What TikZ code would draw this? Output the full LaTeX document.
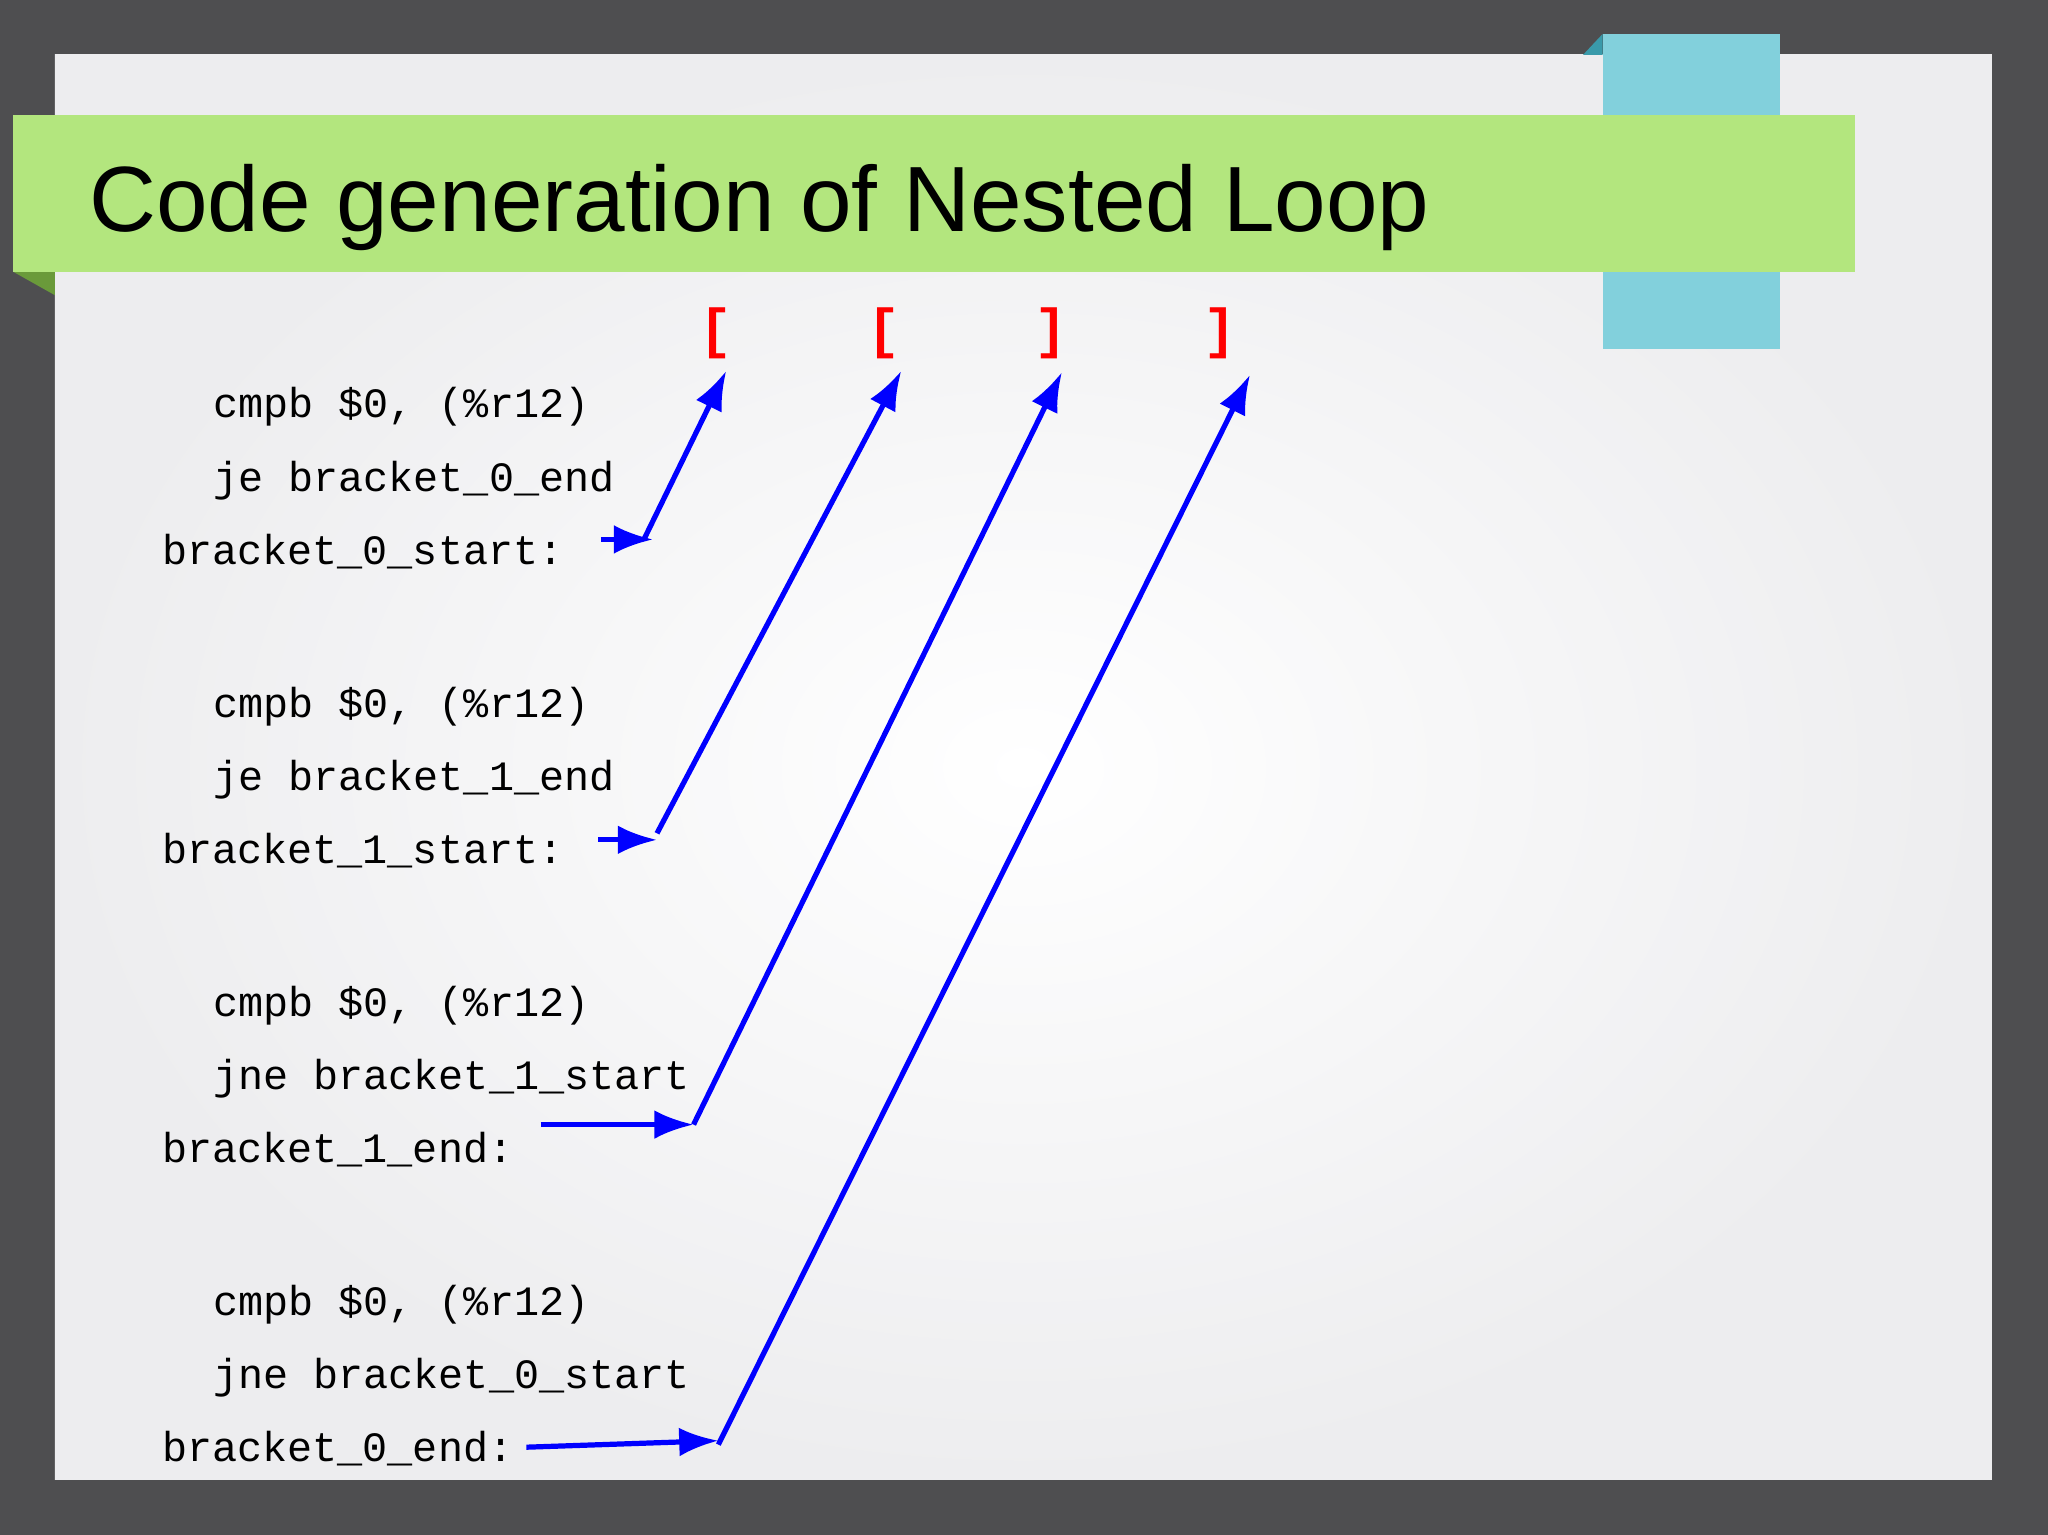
\documentclass[tikz,border=0pt]{standalone}
\usepackage{fontspec}
\setmainfont{Liberation Sans}
\setmonofont{Liberation Mono}
\usetikzlibrary{arrows.meta}
\definecolor{bgdark}{HTML}{4E4E50}
\definecolor{slide}{HTML}{EDEDEF}
\definecolor{titlegreen}{HTML}{B3E67E}
\definecolor{darkgreen}{HTML}{6A9A3A}
\definecolor{sky}{HTML}{82D0DC}
\definecolor{teal}{HTML}{3A9AAA}
\tikzset{
  code/.style={anchor=base west,inner sep=0pt,font=\ttfamily\fontsize{32}{38}\selectfont},
  brk/.style={anchor=base,inner sep=0pt,text=red,font=\ttfamily\bfseries\fontsize{42}{48}\selectfont},
  arr/.style={draw=blue,line width=4pt,-{Latex[length=30pt,width=22pt]}},
}
\begin{document}
\begin{tikzpicture}[x=1pt,y=-1pt]
\useasboundingbox (0,0) rectangle (1568,1175);
\fill[bgdark] (0,0) rectangle (1568,1175);
\shade[inner color=white,outer color=slide] (42,42) rectangle (1525,1133);
\fill[teal] (1212,42) -- (1227,26) -- (1227,42) -- cycle;
\fill[sky] (1227,26) rectangle (1363,267);
\fill[darkgreen] (10,208) -- (42,208) -- (42,226) -- cycle;
\fill[titlegreen] (10,88) rectangle (1420,208);
\node[anchor=base west,inner sep=0pt,font=\fontsize{71}{80}\selectfont] (title) at (68,177) {Code generation of Nested Loop};

\node[brk] (b1) at (548,266) {[};
\node[brk] (b2) at (677,266) {[};
\node[brk] (b3) at (805,266) {]};
\node[brk] (b4) at (934,266) {]};

\node[code] (c1) at (163,320) {cmpb \$0, (\%r12)};
\node[code] (c2) at (163,376) {je bracket\_0\_end};
\node[code] (c3) at (124,432) {bracket\_0\_start:};
\node[code] (c4) at (163,549) {cmpb \$0, (\%r12)};
\node[code] (c5) at (163,605) {je bracket\_1\_end};
\node[code] (c6) at (124,661) {bracket\_1\_start:};
\node[code] (c7) at (163,778) {cmpb \$0, (\%r12)};
\node[code] (c8) at (163,834) {jne bracket\_1\_start};
\node[code] (c9) at (124,890) {bracket\_1\_end:};
\node[code] (c10) at (163,1007) {cmpb \$0, (\%r12)};
\node[code] (c11) at (163,1063) {jne bracket\_0\_start};
\node[code] (c12) at (124,1119) {bracket\_0\_end:};

\coordinate (s1) at (460,413); \coordinate (e1) at (500,413); \coordinate (t1) at (556,284);
\coordinate (s2) at (458,643); \coordinate (e2) at (503,643); \coordinate (t2) at (690,284);
\coordinate (s3) at (414,861); \coordinate (e3) at (531,861); \coordinate (t3) at (813,285);
\coordinate (s4) at (403,1108); \coordinate (e4) at (550,1103); \coordinate (t4) at (957,287);

\draw[arr] (s1) -- (e1);
\draw[arr] (493,413) -- (t1);
\draw[arr] (s2) -- (e2);
\draw[arr] (503,638) -- (t2);
\draw[arr] (s3) -- (e3);
\draw[arr] (531,861) -- (t3);
\draw[arr] (s4) -- (e4);
\draw[arr] (550,1106) -- (t4);
\end{tikzpicture}
\end{document}
